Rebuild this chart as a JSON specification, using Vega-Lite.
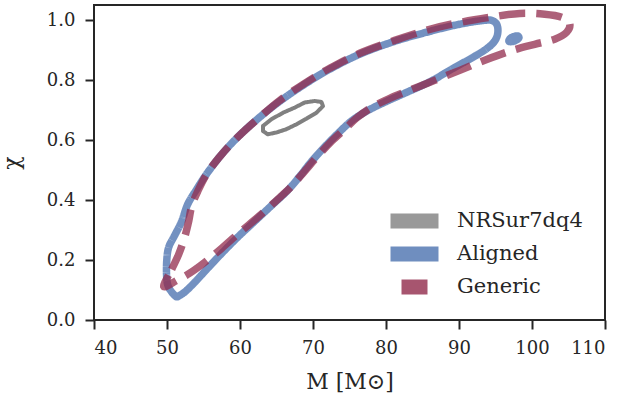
{
  "$schema": "https://vega.github.io/schema/vega-lite/v6.json",
  "width": 511,
  "height": 315,
  "autosize": {"type": "none"},
  "padding": {"left": 94, "top": 5, "right": 22, "bottom": 82},
  "background": "white",
  "config": {
    "font": "DejaVu Serif",
    "view": {"stroke": "#262626", "strokeWidth": 2},
    "axis": {
      "domain": false,
      "grid": false,
      "ticks": true,
      "tickColor": "#262626",
      "tickWidth": 2,
      "tickSize": 9,
      "labelFont": "DejaVu Serif",
      "labelFontSize": 18,
      "labelColor": "#262626",
      "labelPadding": 10,
      "titleFont": "DejaVu Serif",
      "titleFontWeight": "normal",
      "titleColor": "#262626"
    },
    "legend": {
      "labelFont": "DejaVu Serif",
      "labelFontSize": 21,
      "labelColor": "#262626",
      "padding": 0
    }
  },
  "data": {
    "values": [
      {"series": "Aligned", "part": "main", "i": 1, "M": 51.19, "chi": 0.079},
      {"series": "Aligned", "part": "main", "i": 2, "M": 50.23, "chi": 0.109},
      {"series": "Aligned", "part": "main", "i": 3, "M": 49.96, "chi": 0.142},
      {"series": "Aligned", "part": "main", "i": 4, "M": 49.96, "chi": 0.196},
      {"series": "Aligned", "part": "main", "i": 5, "M": 50.23, "chi": 0.242},
      {"series": "Aligned", "part": "main", "i": 6, "M": 51.05, "chi": 0.282},
      {"series": "Aligned", "part": "main", "i": 7, "M": 52.01, "chi": 0.329},
      {"series": "Aligned", "part": "main", "i": 8, "M": 52.84, "chi": 0.386},
      {"series": "Aligned", "part": "main", "i": 9, "M": 54.07, "chi": 0.436},
      {"series": "Aligned", "part": "main", "i": 10, "M": 55.58, "chi": 0.492},
      {"series": "Aligned", "part": "main", "i": 11, "M": 57.63, "chi": 0.556},
      {"series": "Aligned", "part": "main", "i": 12, "M": 59.96, "chi": 0.616},
      {"series": "Aligned", "part": "main", "i": 13, "M": 62.70, "chi": 0.676},
      {"series": "Aligned", "part": "main", "i": 14, "M": 65.44, "chi": 0.729},
      {"series": "Aligned", "part": "main", "i": 15, "M": 68.86, "chi": 0.786},
      {"series": "Aligned", "part": "main", "i": 16, "M": 72.29, "chi": 0.836},
      {"series": "Aligned", "part": "main", "i": 17, "M": 76.40, "chi": 0.886},
      {"series": "Aligned", "part": "main", "i": 18, "M": 81.19, "chi": 0.929},
      {"series": "Aligned", "part": "main", "i": 19, "M": 85.99, "chi": 0.962},
      {"series": "Aligned", "part": "main", "i": 20, "M": 90.10, "chi": 0.986},
      {"series": "Aligned", "part": "main", "i": 21, "M": 93.52, "chi": 0.999},
      {"series": "Aligned", "part": "main", "i": 22, "M": 94.75, "chi": 0.996},
      {"series": "Aligned", "part": "main", "i": 23, "M": 95.30, "chi": 0.976},
      {"series": "Aligned", "part": "main", "i": 24, "M": 95.16, "chi": 0.942},
      {"series": "Aligned", "part": "main", "i": 25, "M": 94.20, "chi": 0.912},
      {"series": "Aligned", "part": "main", "i": 26, "M": 92.15, "chi": 0.879},
      {"series": "Aligned", "part": "main", "i": 27, "M": 89.41, "chi": 0.842},
      {"series": "Aligned", "part": "main", "i": 28, "M": 85.99, "chi": 0.794},
      {"series": "Aligned", "part": "main", "i": 29, "M": 82.56, "chi": 0.756},
      {"series": "Aligned", "part": "main", "i": 30, "M": 79.82, "chi": 0.726},
      {"series": "Aligned", "part": "main", "i": 31, "M": 77.49, "chi": 0.698},
      {"series": "Aligned", "part": "main", "i": 32, "M": 75.30, "chi": 0.664},
      {"series": "Aligned", "part": "main", "i": 33, "M": 73.38, "chi": 0.621},
      {"series": "Aligned", "part": "main", "i": 34, "M": 71.60, "chi": 0.577},
      {"series": "Aligned", "part": "main", "i": 35, "M": 69.82, "chi": 0.529},
      {"series": "Aligned", "part": "main", "i": 36, "M": 68.18, "chi": 0.479},
      {"series": "Aligned", "part": "main", "i": 37, "M": 66.53, "chi": 0.432},
      {"series": "Aligned", "part": "main", "i": 38, "M": 64.34, "chi": 0.382},
      {"series": "Aligned", "part": "main", "i": 39, "M": 62.01, "chi": 0.329},
      {"series": "Aligned", "part": "main", "i": 40, "M": 59.68, "chi": 0.276},
      {"series": "Aligned", "part": "main", "i": 41, "M": 57.49, "chi": 0.222},
      {"series": "Aligned", "part": "main", "i": 42, "M": 55.44, "chi": 0.169},
      {"series": "Aligned", "part": "main", "i": 43, "M": 53.93, "chi": 0.129},
      {"series": "Aligned", "part": "main", "i": 44, "M": 52.56, "chi": 0.096},
      {"series": "Aligned", "part": "main", "i": 45, "M": 51.74, "chi": 0.082},
      {"series": "Aligned", "part": "blob", "i": 1, "M": 96.9, "chi": 0.928},
      {"series": "Aligned", "part": "blob", "i": 2, "M": 97.6, "chi": 0.930},
      {"series": "Aligned", "part": "blob", "i": 3, "M": 98.2, "chi": 0.940},
      {"series": "Aligned", "part": "blob", "i": 4, "M": 98.0, "chi": 0.947},
      {"series": "Aligned", "part": "blob", "i": 5, "M": 97.3, "chi": 0.943},
      {"series": "Aligned", "part": "blob", "i": 6, "M": 96.9, "chi": 0.935},
      {"series": "Generic", "part": "main", "i": 1, "M": 49.55, "chi": 0.112},
      {"series": "Generic", "part": "main", "i": 2, "M": 50.64, "chi": 0.169},
      {"series": "Generic", "part": "main", "i": 3, "M": 51.60, "chi": 0.219},
      {"series": "Generic", "part": "main", "i": 4, "M": 52.42, "chi": 0.276},
      {"series": "Generic", "part": "main", "i": 5, "M": 52.97, "chi": 0.329},
      {"series": "Generic", "part": "main", "i": 6, "M": 53.38, "chi": 0.379},
      {"series": "Generic", "part": "main", "i": 7, "M": 54.21, "chi": 0.429},
      {"series": "Generic", "part": "main", "i": 8, "M": 55.58, "chi": 0.492},
      {"series": "Generic", "part": "main", "i": 9, "M": 57.63, "chi": 0.556},
      {"series": "Generic", "part": "main", "i": 10, "M": 59.96, "chi": 0.616},
      {"series": "Generic", "part": "main", "i": 11, "M": 62.70, "chi": 0.676},
      {"series": "Generic", "part": "main", "i": 12, "M": 65.44, "chi": 0.732},
      {"series": "Generic", "part": "main", "i": 13, "M": 68.86, "chi": 0.789},
      {"series": "Generic", "part": "main", "i": 14, "M": 72.29, "chi": 0.839},
      {"series": "Generic", "part": "main", "i": 15, "M": 76.40, "chi": 0.889},
      {"series": "Generic", "part": "main", "i": 16, "M": 81.19, "chi": 0.932},
      {"series": "Generic", "part": "main", "i": 17, "M": 85.99, "chi": 0.969},
      {"series": "Generic", "part": "main", "i": 18, "M": 90.10, "chi": 0.992},
      {"series": "Generic", "part": "main", "i": 19, "M": 94.21, "chi": 1.009},
      {"series": "Generic", "part": "main", "i": 20, "M": 98.32, "chi": 1.022},
      {"series": "Generic", "part": "main", "i": 21, "M": 101.74, "chi": 1.019},
      {"series": "Generic", "part": "main", "i": 22, "M": 104.07, "chi": 1.009},
      {"series": "Generic", "part": "main", "i": 23, "M": 105.16, "chi": 0.989},
      {"series": "Generic", "part": "main", "i": 24, "M": 104.75, "chi": 0.959},
      {"series": "Generic", "part": "main", "i": 25, "M": 103.11, "chi": 0.936},
      {"series": "Generic", "part": "main", "i": 26, "M": 100.37, "chi": 0.919},
      {"series": "Generic", "part": "main", "i": 27, "M": 96.95, "chi": 0.896},
      {"series": "Generic", "part": "main", "i": 28, "M": 93.53, "chi": 0.866},
      {"series": "Generic", "part": "main", "i": 29, "M": 90.10, "chi": 0.832},
      {"series": "Generic", "part": "main", "i": 30, "M": 86.68, "chi": 0.799},
      {"series": "Generic", "part": "main", "i": 31, "M": 83.25, "chi": 0.766},
      {"series": "Generic", "part": "main", "i": 32, "M": 80.51, "chi": 0.739},
      {"series": "Generic", "part": "main", "i": 33, "M": 78.04, "chi": 0.709},
      {"series": "Generic", "part": "main", "i": 34, "M": 76.12, "chi": 0.676},
      {"series": "Generic", "part": "main", "i": 35, "M": 74.34, "chi": 0.636},
      {"series": "Generic", "part": "main", "i": 36, "M": 72.56, "chi": 0.596},
      {"series": "Generic", "part": "main", "i": 37, "M": 70.64, "chi": 0.546},
      {"series": "Generic", "part": "main", "i": 38, "M": 68.86, "chi": 0.496},
      {"series": "Generic", "part": "main", "i": 39, "M": 67.08, "chi": 0.446},
      {"series": "Generic", "part": "main", "i": 40, "M": 64.89, "chi": 0.396},
      {"series": "Generic", "part": "main", "i": 41, "M": 62.42, "chi": 0.342},
      {"series": "Generic", "part": "main", "i": 42, "M": 59.96, "chi": 0.292},
      {"series": "Generic", "part": "main", "i": 43, "M": 57.49, "chi": 0.239},
      {"series": "Generic", "part": "main", "i": 44, "M": 55.16, "chi": 0.192},
      {"series": "Generic", "part": "main", "i": 45, "M": 53.11, "chi": 0.156},
      {"series": "Generic", "part": "main", "i": 46, "M": 51.33, "chi": 0.132},
      {"series": "NRSur7dq4", "part": "main", "i": 1, "M": 63.15, "chi": 0.630},
      {"series": "NRSur7dq4", "part": "main", "i": 2, "M": 63.80, "chi": 0.619},
      {"series": "NRSur7dq4", "part": "main", "i": 3, "M": 64.98, "chi": 0.625},
      {"series": "NRSur7dq4", "part": "main", "i": 4, "M": 66.35, "chi": 0.636},
      {"series": "NRSur7dq4", "part": "main", "i": 5, "M": 67.70, "chi": 0.652},
      {"series": "NRSur7dq4", "part": "main", "i": 6, "M": 69.10, "chi": 0.671},
      {"series": "NRSur7dq4", "part": "main", "i": 7, "M": 70.47, "chi": 0.691},
      {"series": "NRSur7dq4", "part": "main", "i": 8, "M": 71.37, "chi": 0.713},
      {"series": "NRSur7dq4", "part": "main", "i": 9, "M": 71.15, "chi": 0.727},
      {"series": "NRSur7dq4", "part": "main", "i": 10, "M": 70.23, "chi": 0.730},
      {"series": "NRSur7dq4", "part": "main", "i": 11, "M": 68.86, "chi": 0.725},
      {"series": "NRSur7dq4", "part": "main", "i": 12, "M": 67.50, "chi": 0.708},
      {"series": "NRSur7dq4", "part": "main", "i": 13, "M": 65.90, "chi": 0.691},
      {"series": "NRSur7dq4", "part": "main", "i": 14, "M": 64.30, "chi": 0.669},
      {"series": "NRSur7dq4", "part": "main", "i": 15, "M": 63.15, "chi": 0.647}
    ]
  },
  "encoding": {
    "x": {
      "field": "M", "type": "quantitative",
      "scale": {"domain": [40, 110], "nice": false, "zero": false},
      "axis": {"values": [40, 50, 60, 70, 80, 90, 100, 110], "title": "M [M⊙]", "titleFontSize": 22, "titlePadding": 14}
    },
    "y": {
      "field": "chi", "type": "quantitative",
      "scale": {"domain": [0, 1.05], "nice": false, "zero": false},
      "axis": {"values": [0, 0.2, 0.4, 0.6, 0.8, 1.0], "format": ".1f", "title": "χ", "titleFontSize": 22, "titlePadding": 23}
    },
    "color": {
      "field": "series", "type": "nominal",
      "scale": {"domain": ["NRSur7dq4", "Aligned", "Generic"], "range": ["#808080", "#4C72B0", "#922B4C"]},
      "legend": {
        "title": null, "orient": "none", "legendX": 289, "legendY": 204,
        "symbolType": "M-1,0H1", "symbolStrokeWidth": 15, "symbolSize": 2304,
        "symbolDashOffset": 26, "clipHeight": 24,
        "labelOffset": 11, "rowPadding": 9, "symbolOpacity": 0.8
      }
    },
    "strokeDash": {
      "field": "series", "type": "nominal",
      "scale": {"domain": ["NRSur7dq4", "Aligned", "Generic"], "range": [[1, 0], [1, 0], [26, 11]]},
      "legend": {
        "title": null, "orient": "none", "legendX": 289, "legendY": 204,
        "symbolType": "M-1,0H1", "symbolStrokeWidth": 15, "symbolSize": 2304,
        "symbolDashOffset": 26, "clipHeight": 24,
        "labelOffset": 11, "rowPadding": 9, "symbolOpacity": 0.8
      }
    },
    "detail": {"field": "part"},
    "order": {"field": "i", "type": "quantitative"}
  },
  "layer": [
    {
      "transform": [{"filter": "datum.series === 'Aligned'"}],
      "mark": {"type": "line", "strokeWidth": 7.5, "opacity": 0.78, "interpolate": "cardinal-closed", "strokeJoin": "round"}
    },
    {
      "transform": [{"filter": "datum.series === 'Generic'"}],
      "mark": {"type": "line", "strokeWidth": 7.5, "opacity": 0.75, "interpolate": "cardinal-closed", "strokeCap": "butt"}
    },
    {
      "transform": [{"filter": "datum.series === 'NRSur7dq4'"}],
      "mark": {"type": "line", "strokeWidth": 4, "opacity": 1, "interpolate": "linear-closed", "strokeJoin": "round"}
    }
  ]
}
